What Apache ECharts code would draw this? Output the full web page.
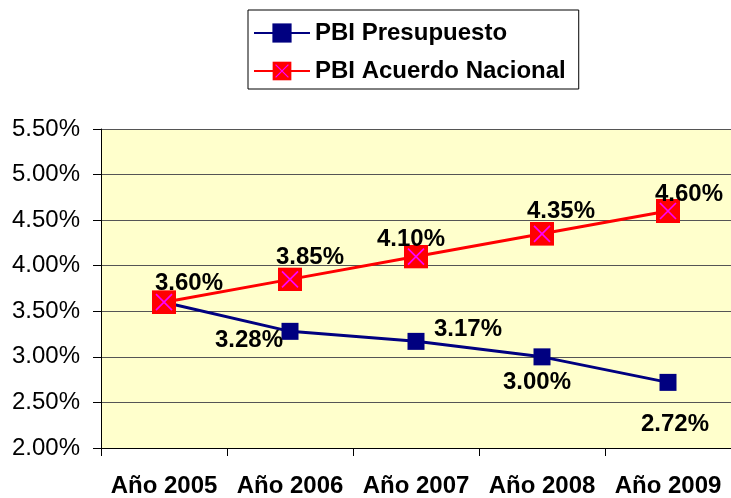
<!DOCTYPE html>
<html><head><meta charset="utf-8">
<script src="https://cdn.jsdelivr.net/npm/echarts@6/dist/echarts.min.js"></script>
<style>html,body{margin:0;padding:0;background:#fff}#c{width:731px;height:498px}</style>
</head><body><div id="c"></div>
<script>
const categories = ['Año 2005','Año 2006','Año 2007','Año 2008','Año 2009'];
const presupuesto = [3.60, 3.28, 3.17, 3.00, 2.72];
const acuerdo = [3.60, 3.85, 4.10, 4.35, 4.60];
const presLabelPos = [null, [-41, 9], [52, -12], [-5, 26], [7, 42]];
const acuLabelPos = [[25, -19], [20, -22], [-5, -17], [19, -22], [21, -17]];

const redSvg = 'image://data:image/svg+xml;utf8,' + encodeURIComponent(
  '<svg xmlns="http://www.w3.org/2000/svg" width="24" height="24" viewBox="0 0 24 24">' +
  '<rect x="0" y="0" width="24" height="24" fill="#FF0000"/>' +
  '<path d="M4 4 L20 20 M20 4 L4 20" stroke="#FF00FF" stroke-width="1.6"/></svg>');

const chart = echarts.init(document.getElementById('c'), null, {renderer: 'canvas'});
const fmt = v => v.toFixed(2) + '%';
chart.setOption({
  animation: false,
  textStyle: {fontFamily: 'Liberation Sans, Arial, sans-serif'},
  legend: {
    orient: 'vertical', left: 248, top: 10,
    padding: [11, 13, 6, 5], itemGap: 14,
    backgroundColor: '#fff', borderColor: '#000', borderWidth: 1,
    itemWidth: 56, itemHeight: 24,
    textStyle: {fontSize: 24, fontWeight: 'bold', color: '#000'},
    data: ['PBI Presupuesto', 'PBI Acuerdo Nacional']
  },
  grid: {left: 101, right: -7, top: 129, bottom: 46, show: true, backgroundColor: '#FFFFCC', borderWidth: 0},
  xAxis: {
    type: 'category', data: categories, boundaryGap: true,
    axisLine: {lineStyle: {color: '#000', width: 1}},
    axisTick: {show: true, length: 8, interval: 0, lineStyle: {color: '#000'}},
    axisLabel: {fontSize: 24, fontWeight: 'bold', color: '#000', margin: 26, interval: 0, hideOverlap: false}
  },
  yAxis: {
    type: 'value', min: 2, max: 5.5, interval: 0.5,
    axisLine: {show: true, lineStyle: {color: '#000'}},
    axisTick: {show: true, length: 8, lineStyle: {color: '#000'}},
    axisLabel: {fontSize: 24, color: '#000', margin: 21, formatter: fmt},
    splitLine: {show: true, lineStyle: {color: '#555', width: 1}}
  },
  series: [
    {
      name: 'PBI Presupuesto', type: 'line',
      data: presupuesto.map((v, i) => ({value: v, label: presLabelPos[i] ? {show: true, offset: presLabelPos[i]} : {show: false}})),
      symbol: 'rect', symbolSize: 17,
      itemStyle: {color: '#000080'},
      lineStyle: {color: '#000080', width: 3},
      label: {position: 'inside', fontSize: 24, fontWeight: 'bold', color: '#000', formatter: p => fmt(p.value)},
      z: 2
    },
    {
      name: 'PBI Acuerdo Nacional', type: 'line',
      data: acuerdo.map((v, i) => ({value: v, label: {show: true, offset: acuLabelPos[i]}})),
      symbol: redSvg, symbolSize: 24,
      itemStyle: {color: '#FF0000'},
      lineStyle: {color: '#FF0000', width: 3},
      label: {position: 'inside', fontSize: 24, fontWeight: 'bold', color: '#000', formatter: p => fmt(p.value)},
      z: 3
    }
  ]
});
</script></body></html>
